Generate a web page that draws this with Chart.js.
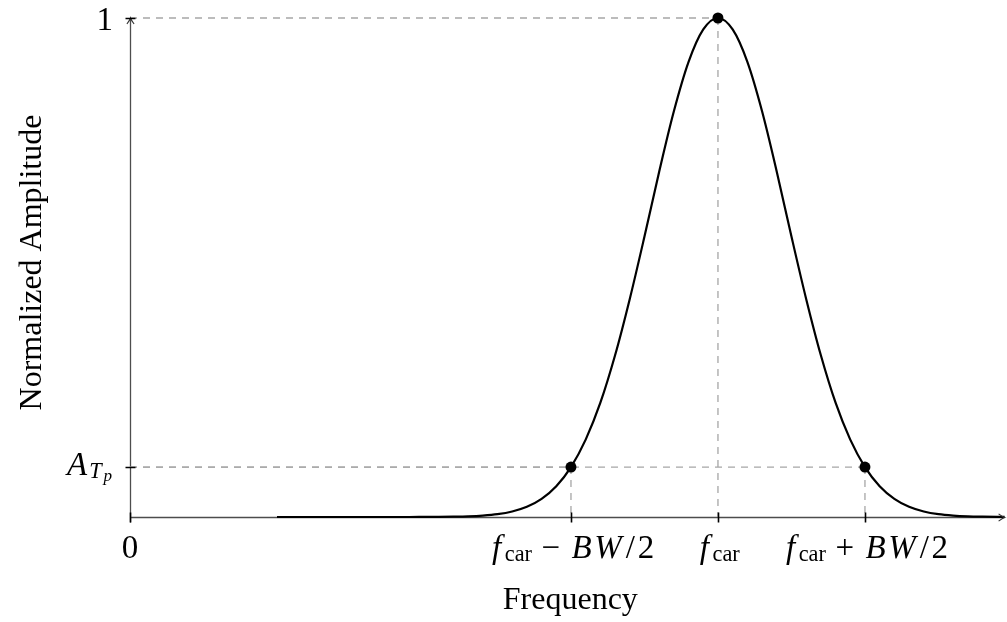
<!DOCTYPE html>
<html>
<head>
<meta charset="utf-8">
<title>Normalized Amplitude vs Frequency</title>
<script src="https://cdn.jsdelivr.net/npm/chart.js@4/dist/chart.umd.min.js"></script>
<style>
  html, body { margin: 0; padding: 0; background: #ffffff; }
  canvas { display: block; }
</style>
</head>
<body>
<canvas id="spectrum" width="1007" height="622"></canvas>
<script>
// ---- data -------------------------------------------------------------
// frequency in units of BW/2, with f_car at 4
const freqSamples = [
  1.0, 1.1, 1.2, 1.3, 1.4, 1.5, 1.6, 1.7, 1.8, 1.9,
  2.0, 2.1, 2.2, 2.3, 2.4, 2.5, 2.6, 2.7, 2.8, 2.9,
  3.0, 3.1, 3.2, 3.3, 3.4, 3.5, 3.6, 3.7, 3.8, 3.9,
  4.0, 4.1, 4.2, 4.3, 4.4, 4.5, 4.6, 4.7, 4.8, 4.9,
  5.0, 5.1, 5.2, 5.3, 5.4, 5.5, 5.6, 5.7, 5.8, 5.9, 5.95
];
const ampSamples = [
  0, 0, 0, 0, 0, 0, 0, 0, 0, 0,
  0.0001, 0.0002, 0.0006, 0.0013, 0.0028, 0.0056, 0.011, 0.0204, 0.0363, 0.0617,
  0.1, 0.155, 0.229, 0.324, 0.437, 0.562, 0.692, 0.813, 0.912, 0.977,
  1, 0.977, 0.912, 0.813, 0.692, 0.562, 0.437, 0.324, 0.229, 0.155,
  0.1, 0.0617, 0.0363, 0.0204, 0.011, 0.0056, 0.0028, 0.0013, 0.0006, 0.0002, 0.0001
];
const markerFreq = [3, 4, 5];
const markerAmp = [0.1, 1, 0.1];

const freqTicks = [0, 3, 4, 5];
const freqTickLabels = ['0', 'f_{car} − BW/2', 'f_{car}', 'f_{car} + BW/2'];
const ampTicks = [0.1, 1];
const ampTickLabels = ['A_{T_{p}}', '1'];
const freqMax = 5.95;
const xTitle = 'Frequency';
const yTitle = 'Normalized Amplitude';

// ---- small math-label typesetter --------------------------------------
const EM = 31;            // layout em
const GLYPH = 33;         // drawn glyph size at base level
const FAMILY = '"Liberation Serif", "Times New Roman", serif';
const SUB_SIZES = [1, 0.72, 0.55];
// base-level advance widths (em), Computer Modern-like
const ADV_IT = { f: 0.53, B: 0.759, W: 0.944, A: 0.75 };
const ADV_RM = { '0': 0.5, '1': 0.5, '2': 0.5, '/': 0.5, '−': 0.778, '+': 0.778 };
const DESC = { f: 0.2, p: 0.2 };

function parseMath(s, level) {
  const out = [];
  let i = 0;
  while (i < s.length) {
    const ch = s[i];
    if (ch === '_') {
      let j = i + 1, body;
      if (s[j] === '{') {
        let depth = 1, k = j + 1;
        while (depth) { if (s[k] === '{') depth++; else if (s[k] === '}') depth--; k++; }
        body = s.slice(j + 1, k - 1); i = k;
      } else { body = s[j]; i = j + 1; }
      out.push({ sub: parseMath(body, level + 1) });
      continue;
    }
    if (ch === ' ') { i++; continue; }
    if (/[A-Za-z]/.test(ch)) {
      let k = i;
      while (k < s.length && /[A-Za-z]/.test(s[k])) k++;
      const word = s.slice(i, k);
      if (level === 0) {
        for (const c of word) out.push({ text: c, italic: true });
      } else {
        // words in subscripts are upright, single letters italic
        out.push({ text: word, italic: word.length === 1 });
      }
      i = k; continue;
    }
    out.push({ text: ch, italic: false, bin: ch === '−' || ch === '+' });
    i++;
  }
  return out;
}

function layoutMath(ctx, items, level, x, dy, glyphs) {
  const lv = Math.min(level, 2);
  const size = (level === 0 ? GLYPH : EM * SUB_SIZES[lv]);
  for (const it of items) {
    if (it.sub) {
      const shift = 0.1 * EM;
      x = layoutMath(ctx, it.sub, level + 1, x + (level === 0 ? 0 : 0.5), dy + shift, glyphs);
      continue;
    }
    const font = (it.italic ? 'italic ' : '') + size.toFixed(1) + 'px ' + FAMILY;
    ctx.font = font;
    const natural = ctx.measureText(it.text).width;
    let adv;
    if (level === 0) {
      const table = it.italic ? ADV_IT : ADV_RM;
      adv = table[it.text] !== undefined ? table[it.text] * EM : natural;
    } else {
      adv = natural + (it.italic ? 0.06 * size : 0);
    }
    if (it.bin) x += 0.222 * EM;
    const d = Math.max(...[...it.text].map(c => DESC[c] || 0));
    glyphs.push({ text: it.text, font, x, adv, natural, dy,
                  top: dy - 0.68 * size, bottom: dy + d * size });
    x += adv;
    if (it.bin) x += 0.222 * EM;
  }
  return x;
}

function typeset(ctx, str) {
  const glyphs = [];
  const width = layoutMath(ctx, parseMath(str, 0), 0, 0, 0, glyphs);
  let top = 0, bottom = 0;
  glyphs.forEach(g => { top = Math.min(top, g.top); bottom = Math.max(bottom, g.bottom); });
  return { glyphs, width, top, bottom };
}

function drawMath(ctx, box, left, baseline) {
  ctx.textAlign = 'left';
  ctx.textBaseline = 'alphabetic';
  for (const g of box.glyphs) {
    ctx.font = g.font;
    ctx.fillText(g.text, left + g.x + (g.adv - g.natural) / 2, baseline + g.dy);
  }
}

function arrowHead(ctx, tipX, tipY, dirX, dirY) {
  // small curved "to" arrow tip
  const len = 6, half = 3.6;
  const nx = -dirY, ny = dirX;
  const bx = tipX - dirX * len, by = tipY - dirY * len;
  ctx.beginPath();
  ctx.moveTo(bx + nx * half, by + ny * half);
  ctx.quadraticCurveTo(tipX - dirX * 2 + nx * 0.6, tipY - dirY * 2 + ny * 0.6, tipX, tipY);
  ctx.quadraticCurveTo(tipX - dirX * 2 - nx * 0.6, tipY - dirY * 2 - ny * 0.6, bx - nx * half, by - ny * half);
  ctx.stroke();
}

// ---- axes, ticks and labels -------------------------------------------
const axesDecor = {
  id: 'axesDecor',
  beforeDatasetsDraw(chart) {
    const { ctx, scales: { x, y } } = chart;
    const x0 = Math.round(x.getPixelForValue(0)) + 0.5;
    const y0 = Math.round(y.getPixelForValue(0)) + 0.5;
    ctx.save();
    ctx.strokeStyle = '#4d4d4d';
    ctx.lineWidth = 1.3;
    ctx.beginPath();
    ctx.moveTo(x0, y0);
    ctx.lineTo(x.getPixelForValue(freqMax), y0);
    ctx.moveTo(x0, y0 + 5);
    ctx.lineTo(x0, y.getPixelForValue(1));
    ctx.stroke();
    ctx.restore();
  },
  afterDatasetsDraw(chart) {
    const { ctx, scales: { x, y } } = chart;
    const x0 = Math.round(x.getPixelForValue(0)) + 0.5;
    const y0 = Math.round(y.getPixelForValue(0)) + 0.5;
    ctx.save();
    // arrow tips
    ctx.strokeStyle = '#333333';
    ctx.lineWidth = 1.1;
    arrowHead(ctx, x.getPixelForValue(freqMax), y0, 1, 0);
    arrowHead(ctx, x0, y.getPixelForValue(1), 0, -1);

    // tick marks
    ctx.strokeStyle = '#000000';
    ctx.lineWidth = 1.6;
    ctx.beginPath();
    freqTicks.forEach(v => {
      const px = Math.round(x.getPixelForValue(v)) + 0.5;
      ctx.moveTo(px, y0 - 5); ctx.lineTo(px, y0 + 5);
    });
    ampTicks.forEach(v => {
      const py = Math.round(y.getPixelForValue(v)) + 0.5;
      ctx.moveTo(x0 - 5, py); ctx.lineTo(x0 + 5, py);
    });
    ctx.stroke();

    // tick labels
    ctx.fillStyle = '#000000';
    freqTicks.forEach((v, i) => {
      const box = typeset(ctx, freqTickLabels[i]);
      drawMath(ctx, box, x.getPixelForValue(v) - box.width / 2, y0 + 40);
    });
    ampTicks.forEach((v, i) => {
      const box = typeset(ctx, ampTickLabels[i]);
      const base = y.getPixelForValue(v) - (box.top + box.bottom) / 2 + 1;
      drawMath(ctx, box, x0 - 18 - box.width, base);
    });

    // axis titles
    ctx.font = '32px ' + FAMILY;
    ctx.textAlign = 'center';
    ctx.textBaseline = 'alphabetic';
    ctx.fillText(xTitle, (x.left + x.right) / 2 + 3, y0 + 91);
    ctx.translate(41, (y.top + y.bottom) / 2 - 5);
    ctx.rotate(-Math.PI / 2);
    ctx.fillText(yTitle, 0, 0);
    ctx.restore();
  }
};

// ---- datasets ---------------------------------------------------------
const curvePoints = freqSamples.map((f, i) => ({ x: f, y: ampSamples[i] }));
const markerPoints = markerFreq.map((f, i) => ({ x: f, y: markerAmp[i] }));

const guideStyle = {
  borderColor: '#a6a6a6', borderWidth: 1.3, borderDash: [7, 6],
  pointRadius: 0, fill: false, tension: 0, order: 3, clip: false
};
const guideSets = [];
markerPoints.forEach(p => {
  guideSets.push(Object.assign({ data: [{ x: 0, y: p.y }, { x: p.x, y: p.y }] }, guideStyle));
  guideSets.push(Object.assign({ data: [{ x: p.x, y: p.y }, { x: p.x, y: 0 }] }, guideStyle));
});

new Chart(document.getElementById('spectrum'), {
  type: 'line',
  data: {
    datasets: [
      {
        data: markerPoints, showLine: false,
        pointRadius: 5.5, pointHoverRadius: 5.5,
        pointBackgroundColor: '#000000', pointBorderColor: '#000000', pointBorderWidth: 0,
        order: 0, clip: false
      },
      {
        data: curvePoints, borderColor: '#000000', borderWidth: 2.2,
        pointRadius: 0, fill: false, cubicInterpolationMode: 'monotone',
        order: 1, clip: false
      },
      ...guideSets
    ]
  },
  options: {
    responsive: false,
    animation: false,
    devicePixelRatio: 1,
    layout: { autoPadding: false, padding: { left: 130, right: 2.4, top: 18, bottom: 105 } },
    scales: {
      x: { type: 'linear', min: 0, max: freqMax, display: false },
      y: { type: 'linear', min: 0, max: 1, display: false }
    },
    plugins: {
      legend: { display: false },
      tooltip: { enabled: false }
    },
    events: []
  },
  plugins: [axesDecor]
});
</script>
</body>
</html>
